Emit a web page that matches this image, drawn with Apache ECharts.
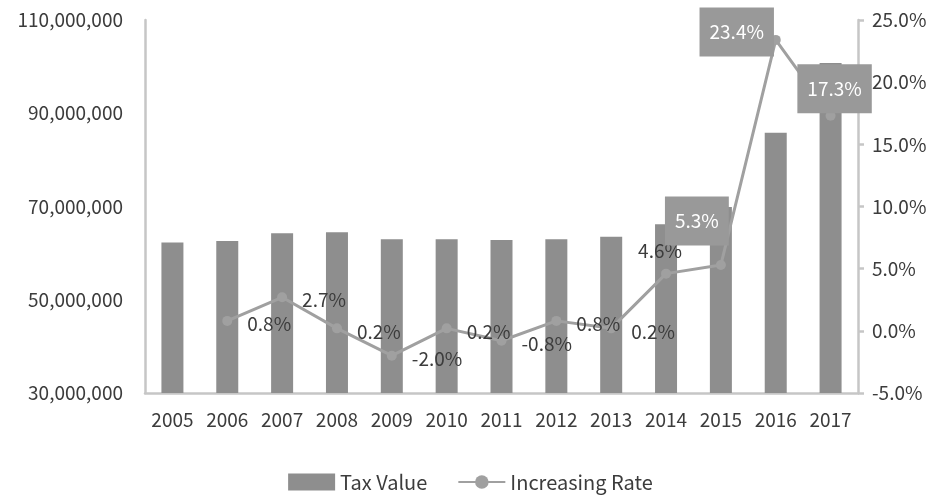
<!DOCTYPE html>
<html>
<head>
<meta charset="utf-8">
<style>
  html, body { margin: 0; padding: 0; background: #fff; }
  #chart { width: 941px; height: 501px; }
</style>
<script src="https://cdn.jsdelivr.net/npm/echarts@6/dist/echarts.min.js"></script>
</head>
<body>
<div id="chart"></div>
<script>
// Yearly tax value (bars, left axis) and its year-on-year increase (line, right axis)
const years = ['2005', '2006', '2007', '2008', '2009', '2010', '2011', '2012', '2013', '2014', '2015', '2016', '2017'];
const taxValue = [62300000, 62600000, 64250000, 64500000, 63000000, 63000000, 62800000, 63000000, 63500000, 66200000, 69900000, 85800000, 100800000];
const increasingRate = [null, 0.8, 2.7, 0.2, -2.0, 0.2, -0.8, 0.8, 0.2, 4.6, 5.3, 23.4, 17.3];
const leftTicks = [30000000, 50000000, 70000000, 90000000, 110000000];
const rightTicks = [-5, 0, 5, 10, 15, 20, 25];

const FONT = '"Noto Sans CJK KR", "Noto Sans", sans-serif';
const TEXT = '#3c3c3c';
const AXIS = '#c6c6c6';
const BAR = '#8e8e8e';
const LINE = '#a0a0a0';
const BOX = '#999999';

const pct = v => v.toFixed(1) + '%';
const fmtThousands = v => String(v).replace(/\B(?=(\d{3})+(?!\d))/g, ',');

// Label placement for each rate point
const plainLabel = {
  show: true, position: 'right', distance: 15, offset: [0, 3],
  color: TEXT, fontSize: 19, fontFamily: FONT,
  formatter: p => pct(p.value)
};
function boxLabel(offset) {
  return {
    show: true, position: 'inside', offset: offset,
    color: '#ffffff', fontSize: 19, fontFamily: FONT,
    backgroundColor: BOX, padding: [15, 10],
    formatter: p => pct(p.value)
  };
}
const specialLabels = {
  '2014': Object.assign({}, plainLabel, { position: 'top', distance: 8, offset: [-6, 0] }),
  '2015': boxLabel([-24, -44]),
  '2016': boxLabel([-39, -8]),
  '2017': boxLabel([4, -27])
};

const rateData = increasingRate.map((v, i) => ({
  value: v,
  label: specialLabels[years[i]] || plainLabel
}));

const chart = echarts.init(document.getElementById('chart'));
chart.setOption({
  animation: false,
  textStyle: { fontFamily: FONT },
  grid: { left: 145, right: 83, top: 20, bottom: 108, containLabel: false },
  legend: {
    bottom: 4,
    left: 'center',
    itemWidth: 47,
    itemHeight: 17,
    itemGap: 30,
    textStyle: { color: TEXT, fontSize: 20, fontFamily: FONT },
    data: [
      { name: 'Tax Value', icon: 'rect' },
      { name: 'Increasing Rate' }
    ]
  },
  xAxis: {
    type: 'category',
    data: years,
    axisLine: { onZero: false, lineStyle: { color: AXIS, width: 2.5 } },
    axisTick: { show: false },
    axisLabel: { color: TEXT, fontSize: 19, fontFamily: FONT, margin: 17 }
  },
  yAxis: [
    {
      type: 'value',
      min: leftTicks[0],
      max: leftTicks[leftTicks.length - 1],
      interval: leftTicks[1] - leftTicks[0],
      splitLine: { show: false },
      axisLine: { show: true, lineStyle: { color: AXIS, width: 2.5 } },
      axisTick: { show: false },
      axisLabel: { color: TEXT, fontSize: 19, fontFamily: FONT, margin: 22, formatter: fmtThousands }
    },
    {
      type: 'value',
      min: rightTicks[0],
      max: rightTicks[rightTicks.length - 1],
      interval: rightTicks[1] - rightTicks[0],
      position: 'right',
      splitLine: { show: false },
      axisLine: { show: true, lineStyle: { color: AXIS, width: 2.5 } },
      axisTick: { show: true, length: 6, lineStyle: { color: AXIS, width: 2.5 } },
      axisLabel: { color: TEXT, fontSize: 19, fontFamily: FONT, margin: 14, formatter: pct }
    }
  ],
  series: [
    {
      name: 'Tax Value',
      type: 'bar',
      data: taxValue,
      barWidth: 22,
      itemStyle: { color: BAR }
    },
    {
      name: 'Increasing Rate',
      type: 'line',
      yAxisIndex: 1,
      data: rateData,
      symbol: 'circle',
      symbolSize: 10,
      itemStyle: { color: LINE },
      lineStyle: { color: LINE, width: 3 },
      z: 3
    }
  ]
});
</script>
</body>
</html>
